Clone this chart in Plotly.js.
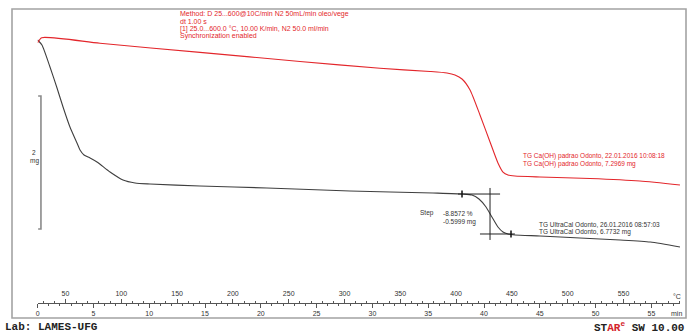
<!DOCTYPE html>
<html>
<head>
<meta charset="utf-8">
<script src="https://cdn.plot.ly/plotly-3.0.1.min.js"></script>
<style>html,body{margin:0;padding:0;background:#fff;}#chart{width:690px;height:336px;}</style>
</head>
<body>
<div id="chart"></div>
<script>
// ---- data (time in min, mass in mg) ----
const timeBlack = [0, 0.39, 1.11, 1.74, 2.28, 2.90, 3.53, 3.80, 4.16, 4.70, 5.32, 6.49, 7.65, 8.73, 10.07, 14.55, 20.55, 27.99, 35.43, 38.12, 38.92, 39.55, 40.18, 40.71, 41.25, 41.70, 42.15, 42.77, 45.01, 48.6, 52.2, 54.9, 57.56];
const massBlack = [6.7732, 6.698, 6.367, 6.051, 5.766, 5.465, 5.224, 5.119, 5.044, 4.999, 4.939, 4.788, 4.668, 4.623, 4.608, 4.578, 4.548, 4.503, 4.472, 4.457, 4.442, 4.382, 4.262, 4.111, 3.961, 3.886, 3.856, 3.841, 3.826, 3.796, 3.766, 3.736, 3.661];

const timeRed = [0, 0.37, 5.59, 14.55, 23.51, 30.68, 35.16, 36.68, 37.40, 38.03, 38.75, 39.64, 40.54, 41.25, 41.70, 42.15, 42.77, 45.01, 49.49, 53.97, 57.56];
const massRed = [7.2969, 7.372, 7.288, 7.151, 7.015, 6.912, 6.864, 6.841, 6.811, 6.751, 6.586, 6.210, 5.804, 5.488, 5.352, 5.307, 5.292, 5.277, 5.255, 5.217, 5.157];

// step evaluation (black curve)
const stepUpperTime = [37.67, 41.44];
const stepLowerTime = [39.64, 42.77];
const stepLevels = [4.457, 3.856];      // upper / lower tangent levels, mg
const stepMidTime = 40.54;
const stepSpan = [4.548, 3.766];
const stepMarkTimes = [38.03, 42.42];

// scale bar (2 mg)
const scaleBarTime = [0.05, 0.30];
const scaleBarTop = 5.931;
const scaleBarLen = 2;

// axes
const timeRange = [0, 57.6];
const tempRange = [25, 601];
const minTickVals = [0, 5, 10, 15, 20, 25, 30, 35, 40, 45, 50, 55];
const tempTickVals = [50, 100, 150, 200, 250, 300, 350, 400, 450, 500, 550];

// pixel helpers for paper-positioned elements
const W = 690, H = 336;
const px = v => v / W;
const py = v => 1 - v / H;

const red = '#e3262b';
const dark = '#3f3f3f';

const traces = [
  {x: timeRed, y: massRed, xaxis: 'x', yaxis: 'y2', mode: 'lines', line: {color: red, width: 1.1, shape: 'spline', smoothing: 0.6}, hoverinfo: 'skip'},
  {x: timeBlack, y: massBlack, xaxis: 'x', yaxis: 'y', mode: 'lines', line: {color: dark, width: 1.1, shape: 'spline', smoothing: 0.6}, hoverinfo: 'skip'},
  // step tangents
  {x: stepUpperTime, y: [stepLevels[0], stepLevels[0]], xaxis: 'x', yaxis: 'y', mode: 'lines', line: {color: '#222', width: 1}, hoverinfo: 'skip'},
  {x: stepLowerTime, y: [stepLevels[1], stepLevels[1]], xaxis: 'x', yaxis: 'y', mode: 'lines', line: {color: '#222', width: 1}, hoverinfo: 'skip'},
  {x: [stepMidTime, stepMidTime], y: stepSpan, xaxis: 'x', yaxis: 'y', mode: 'lines', line: {color: '#222', width: 1}, hoverinfo: 'skip'},
  {x: stepMarkTimes, y: stepLevels, xaxis: 'x', yaxis: 'y', mode: 'markers', marker: {symbol: 'line-ns', size: 5, line: {color: '#111', width: 1.5}}, hoverinfo: 'skip'},
  // scale bar
  {x: [scaleBarTime[0], scaleBarTime[1], scaleBarTime[1], scaleBarTime[0]],
   y: [scaleBarTop, scaleBarTop, scaleBarTop - scaleBarLen, scaleBarTop - scaleBarLen],
   xaxis: 'x', yaxis: 'y', mode: 'lines', line: {color: '#8a8a8a', width: 1.6}, hoverinfo: 'skip'},
  // temperature axis carrier (invisible)
  {x: [tempRange[0], tempRange[1]], y: [null, null], xaxis: 'x2', yaxis: 'y', mode: 'lines', showlegend: false, hoverinfo: 'skip'}
];

const fsmall = {family: 'Liberation Sans, Arial, sans-serif', size: 6.5, color: red};
const fmethod = {family: 'Liberation Sans, Arial, sans-serif', size: 7, color: red};
const fblack = {family: 'Liberation Sans, Arial, sans-serif', size: 6.5, color: '#333'};
const faxis = {family: 'Liberation Sans, Arial, sans-serif', size: 7, color: '#333'};
const ann = (x, y, text, font, anchor) => ({xref: 'paper', yref: 'paper', x: px(x), y: py(y), text: text, showarrow: false, xanchor: anchor || 'left', yanchor: 'middle', font: font});

const axisPos = py(303);
const layout = {
  width: W, height: H,
  margin: {l: 0, r: 0, t: 0, b: 0},
  paper_bgcolor: '#fff', plot_bgcolor: 'rgba(0,0,0,0)',
  showlegend: false,
  xaxis: {
    domain: [px(37.6), px(37.6 + 57.6 * 11.16)], range: timeRange, anchor: 'free', position: axisPos,
    showline: true, linecolor: '#555', linewidth: 1, showgrid: false, zeroline: false,
    tickvals: minTickVals, ticks: 'outside', ticklen: 4, tickcolor: '#555', tickwidth: 1,
    tickfont: faxis,
    minor: {dtick: 1, ticks: 'outside', ticklen: 2, tickcolor: '#555', showgrid: false}
  },
  xaxis2: {
    overlaying: 'x', side: 'top', range: tempRange, anchor: 'free', position: axisPos,
    showline: false, showgrid: false, zeroline: false,
    tickvals: tempTickVals, ticks: 'outside', ticklen: 4, tickcolor: '#555', tickwidth: 1,
    tickfont: faxis,
    minor: {dtick: 10, ticks: 'outside', ticklen: 2, tickcolor: '#555', showgrid: false}
  },
  yaxis: {domain: [0, 1], range: [6.7732 - (H - 40) / 66.5, 6.7732 + 40 / 66.5], visible: false, fixedrange: true},
  yaxis2: {overlaying: 'y', range: [7.2969 - (H - 42.7) / 66.5, 7.2969 + 42.7 / 66.5], visible: false},
  shapes: [
    {type: 'rect', xref: 'paper', yref: 'paper', x0: px(12), x1: px(686), y0: py(318), y1: py(9), line: {color: '#a3a3a3', width: 1.6}}
  ],
  annotations: [
    ann(178, 14, 'Method: D 25...600@10C/min N2 50mL/min oleo/vege', fmethod),
    ann(178, 21.5, 'dt 1.00 s', fmethod),
    ann(178, 29, '[1] 25.0...600.0 °C, 10.00 K/min, N2 50.0 ml/min', fmethod),
    ann(178, 36, 'Synchronization enabled', fmethod),
    ann(521, 156, 'TG Ca(OH) padrao Odonto, 22.01.2016 10:08:18', fsmall),
    ann(521, 164, 'TG Ca(OH) padrao Odonto, 7.2969 mg', fsmall),
    ann(537, 224, 'TG UltraCal Odonto, 26.01.2016 08:57:03', fblack),
    ann(537, 232, 'TG UltraCal Odonto, 6.7732 mg', fblack),
    ann(418, 213, 'Step', fblack),
    ann(441, 213, '-8.8572 %', fblack),
    ann(441, 222, '-0.5999 mg', fblack),
    ann(34, 153, '2', fblack, 'center'),
    ann(34, 161, 'mg', fblack, 'center'),
    ann(677, 296, '°C', faxis, 'center'),
    ann(676, 313, 'min', faxis, 'center'),
    ann(3, 327, '<b>Lab: LAMES-UFG</b>', {family: 'Liberation Mono, monospace', size: 11, color: '#222'}),
    ann(686, 327, '<b>ST<span style="color:#d4242a">AR</span><sup style="color:#d4242a">e</sup> SW 10.00</b>', {family: 'Liberation Mono, monospace', size: 11, color: '#222'}, 'right')
  ]
};

Plotly.newPlot('chart', traces, layout, {staticPlot: true, displayModeBar: false});
</script>
</body>
</html>
